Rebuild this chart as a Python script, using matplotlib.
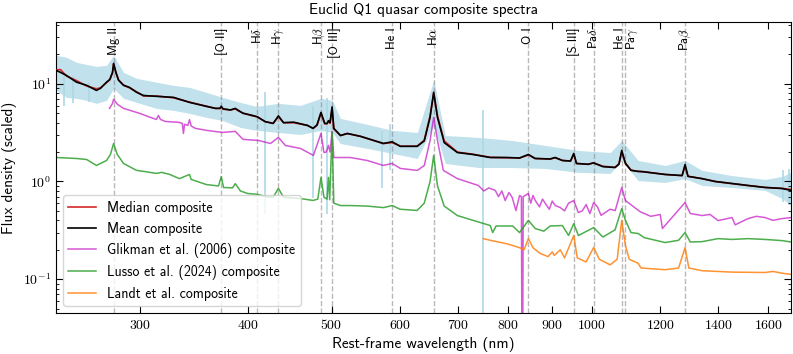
import numpy as np
import matplotlib
matplotlib.use('Agg')
import matplotlib.pyplot as plt
from matplotlib.ticker import FixedLocator, NullLocator, FuncFormatter, LogLocator, NullFormatter

plt.rcParams['font.family'] = ['cmss10', 'DejaVu Sans']
plt.rcParams['mathtext.fontset'] = 'cm'
plt.rcParams['axes.unicode_minus'] = False
plt.rcParams['axes.formatter.use_mathtext'] = True

# mean / median composite (rest-frame nm, scaled flux)
mean_wave = [240.3, 242.9, 246.8, 253.5, 260.4, 267.3, 270.2, 274.6, 277.0, 279.0,
             279.8, 281.5, 283.5, 287.3, 291.9, 297.4, 303.0, 313.6, 328.2, 342.5,
             358.3, 367.0, 371.5, 372.7, 374.5, 382.0, 386.9, 390.0, 395.0, 405.0,
             410.2, 419.0, 428.0, 434.0, 440.0, 452.0, 469.0, 476.0, 481.0, 486.1,
             491.0, 494.0, 495.9, 498.0, 500.7, 503.0, 512.0, 521.5, 540.0, 550.0,
             574.0, 587.6, 600.6, 628.0, 640.0, 650.0, 656.3, 663.0, 675.0, 699.0,
             729.0, 763.0, 798.0, 825.0, 844.6, 860.0, 895.0, 907.0, 925.0, 945.0,
             953.1, 960.0, 990.0, 1004.9, 1030.0, 1064.0, 1075.0, 1083.0, 1093.8, 1110.0,
             1130.0, 1146.0, 1216.0, 1272.0, 1282.0, 1292.0, 1341.0, 1389.0, 1453.0, 1516.0,
             1587.0, 1660.0, 1700.0]
mean_flux = [13.7, 13.1, 12.2, 10.4, 9.66, 8.57, 9.0, 10.4, 11.1, 13.1,
             16.2, 13.1, 10.9, 9.66, 9.2, 8.2, 7.6, 7.45, 7.27, 6.46,
             5.88, 5.61, 5.61, 5.9, 5.55, 5.4, 5.6, 5.35, 5.0, 4.75,
             4.6, 4.1, 3.93, 4.7, 4.0, 4.05, 3.75, 3.5, 3.8, 5.1,
             3.93, 3.93, 4.2, 4.0, 5.8, 3.5, 2.96, 3.1, 2.9, 2.76,
             2.45, 2.55, 2.29, 2.29, 2.6, 4.53, 8.2, 4.53, 2.5, 1.98,
             1.89, 1.76, 1.76, 1.74, 1.89, 1.72, 1.70, 1.76, 1.64, 1.62,
             1.94, 1.53, 1.50, 1.55, 1.42, 1.39, 1.5, 2.08, 1.53, 1.30,
             1.27, 1.26, 1.18, 1.15, 1.49, 1.13, 1.07, 1.0, 0.954, 0.91,
             0.868, 0.848, 0.81]
median_flux = [13.9, 14.0, 12.0, 10.8, 9.5, 8.9, 9.1, 10.3, 11.0, 13.0,
               16.0, 13.2, 11.0, 9.7, 9.1, 8.3, 7.5, 7.5, 7.2, 6.5,
               5.9, 5.6, 5.6, 5.8, 5.5, 5.4, 5.55, 5.3, 5.0, 4.7,
               4.6, 4.1, 3.95, 4.6, 4.0, 4.0, 3.75, 3.5, 3.75, 5.0,
               3.9, 3.9, 4.1, 3.95, 5.6, 3.45, 2.95, 3.1, 2.9, 2.75,
               2.45, 2.5, 2.3, 2.3, 2.65, 4.7, 8.0, 4.7, 2.6, 2.0,
               1.9, 1.77, 1.75, 1.74, 1.87, 1.72, 1.70, 1.75, 1.64, 1.62,
               1.9, 1.53, 1.50, 1.55, 1.43, 1.40, 1.52, 2.0, 1.55, 1.31,
               1.27, 1.26, 1.18, 1.15, 1.45, 1.13, 1.07, 1.0, 0.95, 0.91,
               0.87, 0.85, 0.83]

# spread of individual spectra
band_wave = [240.3, 246.8, 253.5, 260.4, 267.3, 274.6, 279.8, 287.3, 297.4, 313.6,
             328.2, 342.5, 358.3, 373.9, 392.2, 409.3, 434.0, 460.2, 486.1, 501.1,
             511.8, 550.1, 587.9, 628.4, 656.3, 677.0, 739.3, 809.1, 883.6, 964.8,
             1050.3, 1083.0, 1131.6, 1215.9, 1282.0, 1341.6, 1453.0, 1587.0, 1660.5, 1700.7]
band_hi = [19.6, 18.7, 16.6, 15.8, 15.1, 15.5, 19.6, 13.1, 11.4, 10.4,
           9.66, 9.2, 8.18, 7.27, 6.46, 5.88, 6.31, 6.02, 7.10, 6.77,
           4.43, 3.84, 3.34, 3.18, 10.9, 2.96, 2.83, 2.63, 2.34, 2.08,
           1.98, 2.63, 1.64, 1.46, 1.64, 1.30, 1.15, 1.05, 1.13, 1.24]
band_lo = [8.57, 7.27, 7.10, 6.77, 6.31, 6.77, 8.97, 7.10, 6.46, 5.61,
           5.35, 4.98, 4.53, 4.22, 3.58, 3.34, 3.18, 3.03, 3.34, 3.18,
           2.45, 2.18, 1.94, 1.72, 3.75, 1.53, 1.39, 1.39, 1.36, 1.24,
           1.21, 1.64, 1.02, 0.977, 1.07, 0.91, 0.868, 0.809, 0.669, 0.567]
spike_wave = [245.0, 251.0, 262.0, 419.0, 476.0, 494.0, 572.0, 585.0, 749.0, 1665.0, 1690.0]
spike_lo = [6.0, 6.3, 6.5, 0.47, 0.67, 0.47, 0.85, 1.30, 0.03, 0.62, 0.57]
spike_hi = [12.0, 12.0, 10.5, 8.2, 6.0, 7.1, 3.3, 3.9, 5.35, 1.3, 1.35]

# Glikman et al. (2006)
glik_wave = [276.8, 279.0, 279.8, 282.7, 287.3, 300.0, 308.7, 313.6, 315.3, 317.0,
             321.2, 333.4, 336.0, 337.0, 338.0, 341.0, 342.5, 344.0, 347.9, 358.3,
             373.9, 386.9, 395.0, 411.6, 424.9, 434.0, 442.1, 460.2, 476.4, 486.1,
             490.0, 493.0, 495.9, 498.0, 500.7, 503.0, 525.7, 550.0, 574.0, 587.6,
             600.6, 628.4, 640.1, 650.0, 656.3, 663.0, 673.4,
             699.0, 739.3, 750.0, 760.0, 773.4, 780.0, 787.0, 794.0, 802.0, 809.1,
             817.0, 825.0, 829.0, 831.1, 833.0, 844.6, 850.0, 855.0, 860.3, 870.0,
             877.0, 883.6, 893.0, 900.0, 907.3, 919.5, 930.0, 940.0, 953.1, 964.8,
             975.0, 985.0, 995.0, 1004.9, 1015.0, 1025.0, 1036.6, 1050.0, 1064.4, 1083.0,
             1093.8, 1137.6, 1170.0, 1200.0, 1207.0, 1235.0, 1282.0, 1300.0, 1341.6, 1370.0,
             1400.0, 1453.0, 1465.0, 1516.0, 1550.0, 1587.0, 1620.0, 1660.0, 1700.0]
glik_flux = [5.61, 6.31, 6.94, 6.17, 5.61, 4.98, 4.53, 4.32, 4.75, 4.32,
             4.12, 4.03, 3.93, 3.10, 3.85, 3.75, 4.3, 3.7, 3.50, 3.34,
             3.18, 3.26, 2.7, 2.63, 2.45, 2.83, 2.34, 2.18, 1.85, 3.10,
             1.98, 2.0, 2.34, 2.0, 3.26, 1.76, 1.76, 1.64, 1.46, 1.53,
             1.36, 1.30, 1.46, 2.63, 4.53, 2.63, 1.30,
             1.07, 0.91, 0.80, 0.86, 0.809, 0.70, 0.80, 0.638, 0.771, 0.685,
             0.504, 0.718, 0.70, 0.001, 0.70, 0.753, 0.60, 0.72, 0.638, 0.55,
             0.66, 0.595, 0.52, 0.63, 0.567, 0.541, 0.50, 0.60, 0.638, 0.481,
             0.50, 0.58, 0.47, 0.609, 0.55, 0.45, 0.481, 0.52, 0.504, 0.868,
             0.638, 0.49, 0.44, 0.459, 0.33, 0.417, 0.609, 0.47, 0.448, 0.46,
             0.398, 0.427, 0.36, 0.417, 0.44, 0.427, 0.40, 0.417, 0.427]

# Lusso et al. (2024)
luss_wave = [240.3, 253.5, 260.4, 267.3, 274.6, 277.5, 279.8, 282.5, 287.3, 297.4,
             303.0, 313.6, 318.0, 325.0, 333.4, 342.5, 344.0, 358.3, 370.0, 372.7,
             375.0, 384.0, 386.9, 392.2, 400.0, 410.2, 420.0, 428.0, 434.0, 440.0,
             460.0, 476.0, 482.0, 486.1, 490.0, 494.0, 495.9, 497.5, 500.7, 503.0,
             512.0, 525.7, 550.0, 574.0, 587.6, 600.0, 628.0, 640.0, 650.0, 656.3,
             663.0, 675.0, 699.0, 729.0, 763.0, 768.0, 775.0, 810.0, 825.0, 844.6,
             860.0, 880.0, 895.0, 924.6, 940.0, 953.1, 965.0, 1004.9, 1030.0, 1064.0,
             1083.0, 1093.8, 1110.0, 1131.6, 1150.0, 1216.0, 1260.0, 1282.0, 1300.0, 1341.0,
             1400.0, 1453.0, 1516.0, 1587.0, 1660.0, 1700.0]
luss_flux = [1.76, 1.72, 1.68, 1.46, 1.64, 1.9, 2.45, 1.9, 1.53, 1.30,
             1.27, 1.21, 1.24, 1.18, 1.07, 1.18, 1.05, 0.93, 0.9, 1.12,
             0.868, 0.86, 0.95, 0.80, 0.753, 0.74, 0.70, 0.69, 0.85, 0.69,
             0.669, 0.64, 0.66, 1.10, 0.69, 0.66, 1.10, 0.65, 3.2, 0.6,
             0.567, 0.567, 0.56, 0.54, 0.567, 0.52, 0.505, 0.6, 1.0, 1.85,
             0.9, 0.56, 0.448, 0.40, 0.354, 0.30, 0.35, 0.35, 0.30, 0.40,
             0.33, 0.31, 0.35, 0.354, 0.28, 0.37, 0.28, 0.337, 0.27, 0.32,
             0.528, 0.40, 0.30, 0.293, 0.266, 0.237, 0.25, 0.30, 0.24, 0.242,
             0.26, 0.255, 0.26, 0.255, 0.248, 0.24]

# Landt et al.
landt_wave = [749.0, 763.0, 798.0, 825.0, 835.0, 844.6, 855.0, 871.8, 890.0, 900.0,
              905.0, 919.5, 930.0, 953.1, 962.0, 985.0, 1004.9, 1020.0, 1050.0, 1070.0,
              1083.0, 1093.8, 1105.0, 1131.6, 1140.0, 1216.0, 1260.0, 1282.0, 1295.0, 1341.0,
              1453.0, 1587.0, 1620.0, 1660.0, 1700.0]
landt_flux = [0.26, 0.25, 0.23, 0.21, 0.20, 0.26, 0.21, 0.183, 0.17, 0.19,
              0.175, 0.20, 0.165, 0.28, 0.165, 0.15, 0.211, 0.16, 0.14, 0.16,
              0.40, 0.22, 0.16, 0.145, 0.13, 0.125, 0.13, 0.21, 0.13, 0.122,
              0.118, 0.117, 0.12, 0.115, 0.112]

line_wave = [279.8, 372.7, 410.2, 434.0, 486.1, 500.7, 587.6, 656.3,
             844.6, 953.1, 1004.9, 1083.0, 1093.8, 1281.8]
line_names = ['Mg II', '[O II]', r'H$\delta$', r'H$\gamma$', r'H$\beta$', '[O III]',
              'He I', r'H$\alpha$', 'O I', '[S III]', r'Pa$\delta$', 'He I',
              r'Pa$\gamma$', r'Pa$\beta$']
label_dx = [0, 0, 0, 0, -1.5, 1.5, 0, 0, 0, 0, 0, -1, 5, 0]

xticks = [300, 400, 500, 600, 700, 800, 900, 1000, 1200, 1400, 1600]

fig = plt.figure(figsize=(7.93, 3.54), dpi=100)
ax = fig.add_axes([0.0706, 0.1158, 0.9269, 0.8221])

ax.fill_between(band_wave, band_lo, band_hi, color='lightblue', alpha=0.75, lw=0, zorder=1)
ax.vlines(spike_wave, spike_lo, spike_hi, color='lightblue', lw=1.2, zorder=1)

for w, name, dx in zip(line_wave, line_names, label_dx):
    ax.axvline(w, color='gray', ls='--', lw=1, alpha=0.55, zorder=1.5)
    ax.annotate(name, xy=(w, 0.982), xycoords=('data', 'axes fraction'),
                xytext=(dx, 0), textcoords='offset points',
                rotation=90, ha='center', va='top', fontsize=9)

ax.plot(mean_wave, median_flux, color='tab:red', lw=1.2, label='Median composite', zorder=3)
ax.plot(mean_wave, mean_flux, color='black', lw=1.2, label='Mean composite', zorder=4)
ax.plot(glik_wave, glik_flux, color='m', alpha=0.65, lw=1.1,
        label='Glikman et al. (2006) composite', zorder=2)
ax.plot(luss_wave, luss_flux, color='tab:green', alpha=0.85, lw=1.1,
        label='Lusso et al. (2024) composite', zorder=2)
ax.plot(landt_wave, landt_flux, color='tab:orange', alpha=0.85, lw=1.1,
        label='Landt et al. composite', zorder=2)

ax.set_xscale('log')
ax.set_yscale('log')
ax.set_xlim(240, 1700)
ax.set_ylim(0.045, 43)

ax.xaxis.set_major_locator(FixedLocator(xticks))
ax.xaxis.set_minor_locator(NullLocator())
ax.xaxis.set_major_formatter(FuncFormatter(lambda v, p: r'$%d$' % v))
ax.yaxis.set_major_locator(LogLocator(base=10))
ax.yaxis.set_minor_locator(LogLocator(base=10, subs=np.arange(2, 10)))
ax.yaxis.set_major_formatter(FuncFormatter(lambda v, p: r'$10^{%d}$' % round(np.log10(v))))
ax.yaxis.set_minor_formatter(NullFormatter())
ax.tick_params(which='both', direction='in', top=True, right=True, labelsize=10)
ax.tick_params(which='major', length=5)
ax.tick_params(which='minor', length=2.5)

ax.set_xlabel('Rest-frame wavelength (nm)', fontsize=11)
ax.set_ylabel('Flux density (scaled)', fontsize=11)
ax.set_title('Euclid Q1 quasar composite spectra', fontsize=11)
ax.legend(loc='lower left', fontsize=10)

fig.savefig('out.png', dpi=100)
